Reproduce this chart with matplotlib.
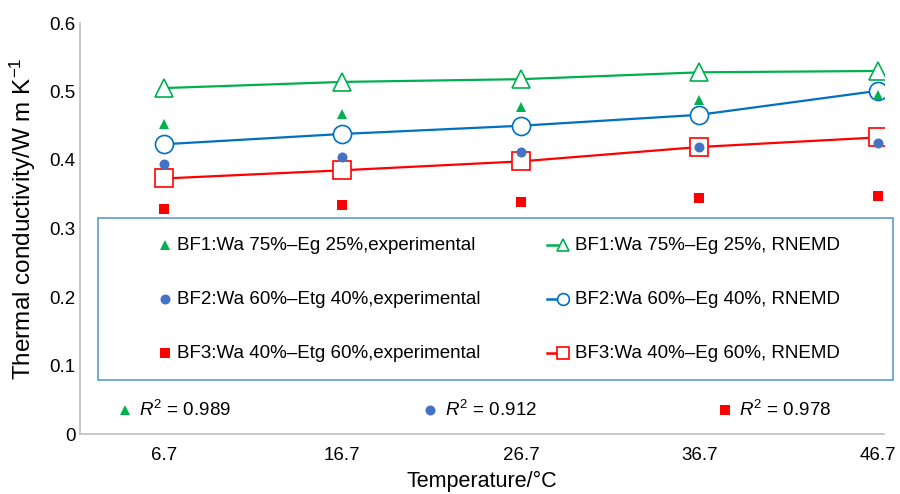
import matplotlib
matplotlib.use("Agg")
import matplotlib.pyplot as plt
from matplotlib.patches import Rectangle

plt.rcParams['font.family'] = ['Liberation Sans', 'DejaVu Sans']
plt.rcParams['mathtext.fontset'] = 'custom'
plt.rcParams['mathtext.rm'] = 'Liberation Sans'
plt.rcParams['mathtext.it'] = 'Liberation Sans:italic'

# data
temps = ["6.7", "16.7", "26.7", "36.7", "46.7"]
bf1_exp = [0.452, 0.467, 0.477, 0.488, 0.495]
bf2_exp = [0.394, 0.404, 0.411, 0.419, 0.425]
bf3_exp = [0.328, 0.334, 0.339, 0.344, 0.347]
bf1_rnemd = [0.505, 0.514, 0.518, 0.528, 0.530]
bf2_rnemd = [0.423, 0.438, 0.450, 0.466, 0.501]
bf3_rnemd = [0.373, 0.385, 0.398, 0.419, 0.433]
r2_values = [0.989, 0.912, 0.978]

GREEN = "#00b050"
BLUE_LINE = "#0070c0"
BLUE_DOT = "#4472c4"
RED = "#ff0000"
GREY = "#bfbfbf"

# axes box in pixels (left, right, top, bottom)
AX_L, AX_R, AX_T, AX_B = 80, 884, 23, 434

fig = plt.figure(figsize=(9, 4.94), dpi=100)
ax = fig.add_axes([AX_L / 900, 1 - AX_B / 494, (AX_R - AX_L) / 900, (AX_B - AX_T) / 494])

x = list(range(len(temps)))

ax.plot(x, bf1_rnemd, color=GREEN, lw=1.6, marker="^", ms=13,
        mfc="white", mec=GREEN, mew=1.2, zorder=3)
ax.plot(x, bf2_rnemd, color=BLUE_LINE, lw=1.6, marker="o", ms=13,
        mfc="white", mec=BLUE_LINE, mew=1.2, zorder=3)
ax.plot(x, bf3_rnemd, color=RED, lw=1.6, marker="s", ms=12.5,
        mfc="white", mec=RED, mew=1.2, zorder=3)

ax.plot(x, bf1_exp, ls="none", marker="^", ms=7, color=GREEN, mew=0, zorder=4)
ax.plot(x, bf2_exp, ls="none", marker="o", ms=7.2, color=BLUE_DOT, mew=0, zorder=4)
ax.plot(x, bf3_exp, ls="none", marker="s", ms=7.2, color=RED, mew=0, zorder=4)

ax.set_xlim(-0.47, 4.034)
ax.set_ylim(0, 0.6)
ax.set_xticks(x)
ax.set_xticklabels(temps)
ax.set_yticks([0, 0.1, 0.2, 0.3, 0.4, 0.5, 0.6])
ax.set_yticklabels(["0", "0.1", "0.2", "0.3", "0.4", "0.5", "0.6"])
ax.tick_params(axis="both", length=0, labelsize=13.5)
ax.tick_params(axis="x", pad=9)
ax.tick_params(axis="y", pad=3)
for s in ["top", "right"]:
    ax.spines[s].set_visible(False)
for s in ["left", "bottom"]:
    ax.spines[s].set_color(GREY)
    ax.spines[s].set_linewidth(1.2)

ax.set_ylabel("Thermal conductivity/W m K$^{-1}$", fontsize=17.5)
ax.yaxis.set_label_coords(-0.052, 0.525)
ax.set_xlabel("Temperature/°C", fontsize=15.5, labelpad=5)


# legend box, drawn by hand to match the Excel layout
def ax_xy(px, py):
    return (px - AX_L) / (AX_R - AX_L), (AX_B - py) / (AX_B - AX_T)


x0, y0 = ax_xy(98, 380)
x1, y1 = ax_xy(893, 218)
ax.add_patch(Rectangle((x0, y0), x1 - x0, y1 - y0, transform=ax.transAxes,
                       facecolor="white", edgecolor="#5b9bd5", lw=1.2, zorder=2,
                       clip_on=False))

rows = [245, 299, 353]
left_labels = ["BF1:Wa 75%\u2013Eg 25%,experimental",
               "BF2:Wa 60%\u2013Etg 40%,experimental",
               "BF3:Wa 40%\u2013Etg 60%,experimental"]
right_labels = ["BF1:Wa 75%\u2013Eg 25%, RNEMD",
                "BF2:Wa 60%\u2013Eg 40%, RNEMD",
                "BF3:Wa 40%\u2013Eg 60%, RNEMD"]
exp_style = [("^", 7, GREEN), ("o", 7.2, BLUE_DOT), ("s", 7.2, RED)]
rn_style = [("^", 9, GREEN), ("o", 8.5, BLUE_LINE), ("s", 8.5, RED)]

for row, lab, (mk, ms, c) in zip(rows, left_labels, exp_style):
    mx, my = ax_xy(165, row)
    ax.plot([mx], [my], ls="none", marker=mk, ms=ms, color=c, mew=0,
            transform=ax.transAxes, clip_on=False, zorder=5)
    tx, ty = ax_xy(177, row)
    ax.text(tx, ty, lab, transform=ax.transAxes, fontsize=13.5, va="center",
            ha="left", zorder=5)

for row, lab, (mk, ms, c) in zip(rows, right_labels, rn_style):
    lx0, ly = ax_xy(547, row)
    lx1, _ = ax_xy(558, row)
    mx, _ = ax_xy(563, row)
    ax.plot([lx0, lx1], [ly, ly], color=c, lw=1.8, transform=ax.transAxes,
            clip_on=False, zorder=5)
    ax.plot([mx], [ly], ls="none", marker=mk, ms=ms, mfc="white", mec=c,
            mew=1.2, transform=ax.transAxes, clip_on=False, zorder=6)
    tx, ty = ax_xy(575, row)
    ax.text(tx, ty, lab, transform=ax.transAxes, fontsize=13.5, va="center",
            ha="left", zorder=5)

# R^2 row
r2_pos = [(125, 139), (430, 445), (725, 739)]
for (mpx, tpx), r2, (mk, ms, c) in zip(r2_pos, r2_values, exp_style):
    mx, my = ax_xy(mpx, 410)
    ax.plot([mx], [my], ls="none", marker=mk, ms=ms, color=c, mew=0,
            transform=ax.transAxes, clip_on=False, zorder=5)
    tx, ty = ax_xy(tpx, 410)
    ax.text(tx, ty, r"$\mathit{R}^2$ = " + f"{r2:.3f}", transform=ax.transAxes,
            fontsize=13.5, va="center", ha="left", zorder=5)

fig.savefig("out.png", dpi=100)
